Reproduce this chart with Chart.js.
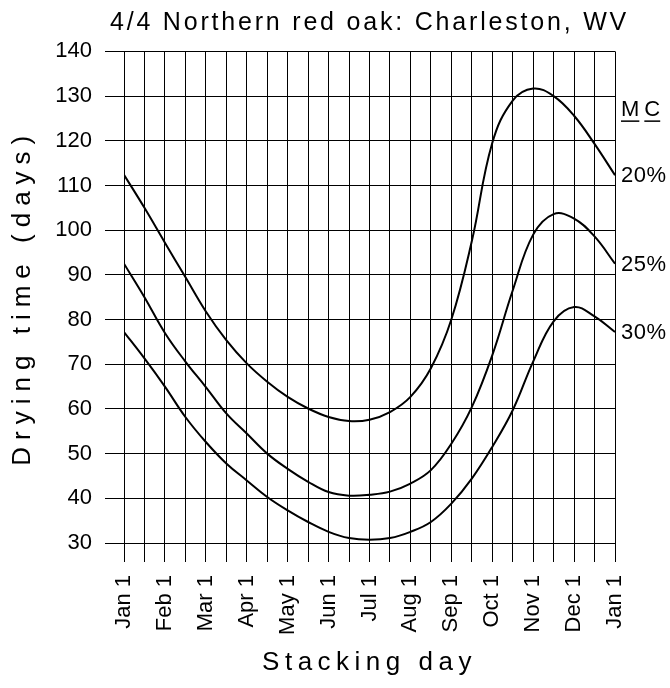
<!DOCTYPE html>
<html>
<head>
<meta charset="utf-8">
<script src="https://cdn.jsdelivr.net/npm/chart.js@4/dist/chart.umd.min.js"></script>
<style>
html,body{margin:0;padding:0;background:#fff;}
#wrap{width:670px;height:688px;position:relative;}
canvas{display:block;}
</style>
</head>
<body>
<div id="wrap"><canvas id="c" width="670" height="688"></canvas></div>
<script>
const chartTitle = '4/4 Northern red oak: Charleston, WV';
const xAxisTitle = 'Stacking day';
const yAxisTitle = 'Drying time (days)';
const monthLabels = ['Jan 1','Feb 1','Mar 1','Apr 1','May 1','Jun 1','Jul 1','Aug 1','Sep 1','Oct 1','Nov 1','Dec 1','Jan 1'];
// stacking date in months after Jan 1 (half-month steps)
const stackingMonth = [0,0.5,1,1.5,2,2.5,3,3.5,4,4.5,5,5.5,6,6.5,7,7.5,8,8.5,9,9.5,10,10.5,11,11.5,12];
const mc20 = [112.4,105,97.2,89.5,81.8,75.4,70.2,66.1,62.7,60.1,58.2,57.3,57.6,59.3,62.7,69.1,80,97.5,119.5,129,131.7,130,125.6,119.3,112.3];
const mc25 = [92.5,85,77,70.6,64.9,59,54.5,50,46.6,43.7,41.4,40.6,40.8,41.5,43.3,46.3,52.2,60.4,72,86.5,99,103.6,102.6,98.6,92.5];
const mc30 = [77.2,71.3,65,58.2,52.6,47.8,44,40.3,37.3,34.7,32.5,31.1,30.7,31.1,32.5,34.7,38.8,44.4,51.5,59.7,70.6,79.6,82.8,80.7,77.2];
const seriesLabels = ['20%','25%','30%'];
const legendHeading = 'MC';

const FONT = "'Liberation Sans', Arial, Helvetica, sans-serif";

function toPoints(ys){ return stackingMonth.map((x,i)=>({x:x, y:ys[i]})); }

const spacingPlugin = {
  id: 'spacing',
  beforeDraw(chart){
    if (chart._spPatched) return;
    chart._spPatched = true;
    const wrap = (obj, name, sp, widen) => {
      const orig = obj[name];
      obj[name] = function(...a){
        const ctx = chart.ctx;
        const prev = ctx.letterSpacing;
        ctx.letterSpacing = sp;
        let l, r;
        if (widen) { l = this.left; r = this.right; this.left = l - widen; this.right = r + widen; }
        try { return orig.apply(this, a); }
        finally { ctx.letterSpacing = prev; if (widen) { this.left = l; this.right = r; } }
      };
    };
    wrap(chart.titleBlock, 'draw', '2.8px', 80);
    wrap(chart.scales.x, 'drawTitle', '5.5px', 0);
    wrap(chart.scales.y, 'drawTitle', '7px', 0);
  }
};

const annotPlugin = {
  id: 'annot',
  afterDraw(chart){
    const ctx = chart.ctx;
    const ys = chart.scales.y;
    const area = chart.chartArea;
    ctx.save();
    // minor tick marks on y axis
    ctx.strokeStyle = '#000';
    ctx.lineWidth = 1;
    ys.ticks.forEach(t => {
      if (t.value % 10 !== 0) {
        const y = Math.round(ys.getPixelForValue(t.value)) + 0.5;
        ctx.beginPath();
        ctx.moveTo(area.left - 10, y);
        ctx.lineTo(area.left, y);
        ctx.stroke();
      }
    });
    // series labels at the right end of each curve
    ctx.fillStyle = '#000';
    ctx.font = '22px ' + FONT;
    ctx.textAlign = 'left';
    ctx.textBaseline = 'middle';
    ctx.letterSpacing = '0.5px';
    const x0 = area.right + 6;
    chart.data.datasets.forEach((ds, i) => {
      const last = ds.data[ds.data.length - 1].y;
      ctx.fillText(seriesLabels[i], x0, ys.getPixelForValue(last) + 1);
    });
    // "MC" heading, each letter underlined
    const yMC = ys.getPixelForValue(126.8);
    let x = x0;
    legendHeading.split('').forEach(ch => {
      const w = ctx.measureText(ch).width - 0.5;
      ctx.fillText(ch, x, yMC);
      ctx.fillRect(x, yMC + 10, w, 1.5);
      x += w + 5;
    });
    ctx.restore();
  }
};

new Chart(document.getElementById('c'), {
  type: 'line',
  data: {
    datasets: [
      { label: seriesLabels[0], data: toPoints(mc20) },
      { label: seriesLabels[1], data: toPoints(mc25) },
      { label: seriesLabels[2], data: toPoints(mc30) }
    ].map(d => Object.assign(d, {
      borderColor: '#000', borderWidth: 2, pointRadius: 0, fill: false,
      tension: 0.4
    }))
  },
  options: {
    responsive: false,
    animation: false,
    devicePixelRatio: 1,
    layout: { padding: { left: 0, right: 55, top: 0, bottom: 0 } },
    plugins: {
      legend: { display: false },
      tooltip: { enabled: false },
      title: {
        display: true, text: chartTitle, color: '#000', fullSize: false,
        font: { family: FONT, size: 25, weight: 'normal', lineHeight: 1.2 },
        padding: { top: 8, bottom: 13.4 }
      }
    },
    scales: {
      x: {
        type: 'linear', min: 0, max: 12,
        ticks: {
          stepSize: 0.5, autoSkip: false, maxRotation: 90, minRotation: 90,
          padding: 13, color: '#000',
          font: { family: FONT, size: 22 },
          callback: (v) => Number.isInteger(v) ? monthLabels[v] : ''
        },
        grid: { color: '#000', lineWidth: 1, tickLength: 19, tickColor: '#000' },
        border: { color: '#000', width: 1 },
        title: {
          display: true, text: xAxisTitle, color: '#000',
          font: { family: FONT, size: 26, lineHeight: 1.2 },
          padding: { top: 0, bottom: 10 }
        },
        afterFit: (s) => { s.height = 145; }
      },
      y: {
        type: 'linear', min: 30, max: 140,
        ticks: {
          stepSize: 5, padding: 13, color: '#000',
          font: { family: FONT, size: 22 },
          callback: (v) => (v % 10 === 0) ? String(v) : ''
        },
        grid: {
          color: '#000', lineWidth: 1, tickLength: 19,
          tickColor: (c) => (c.tick && c.tick.value % 10 === 0) ? '#000' : 'rgba(0,0,0,0)'
        },
        border: { color: '#000', width: 1 },
        title: {
          display: true, text: yAxisTitle, color: '#000',
          font: { family: FONT, size: 26, lineHeight: 1.2 },
          padding: { top: 7, bottom: 0 }
        },
        afterFit: (s) => { s.width = 124; }
      }
    }
  },
  plugins: [spacingPlugin, annotPlugin]
});
</script>
</body>
</html>
